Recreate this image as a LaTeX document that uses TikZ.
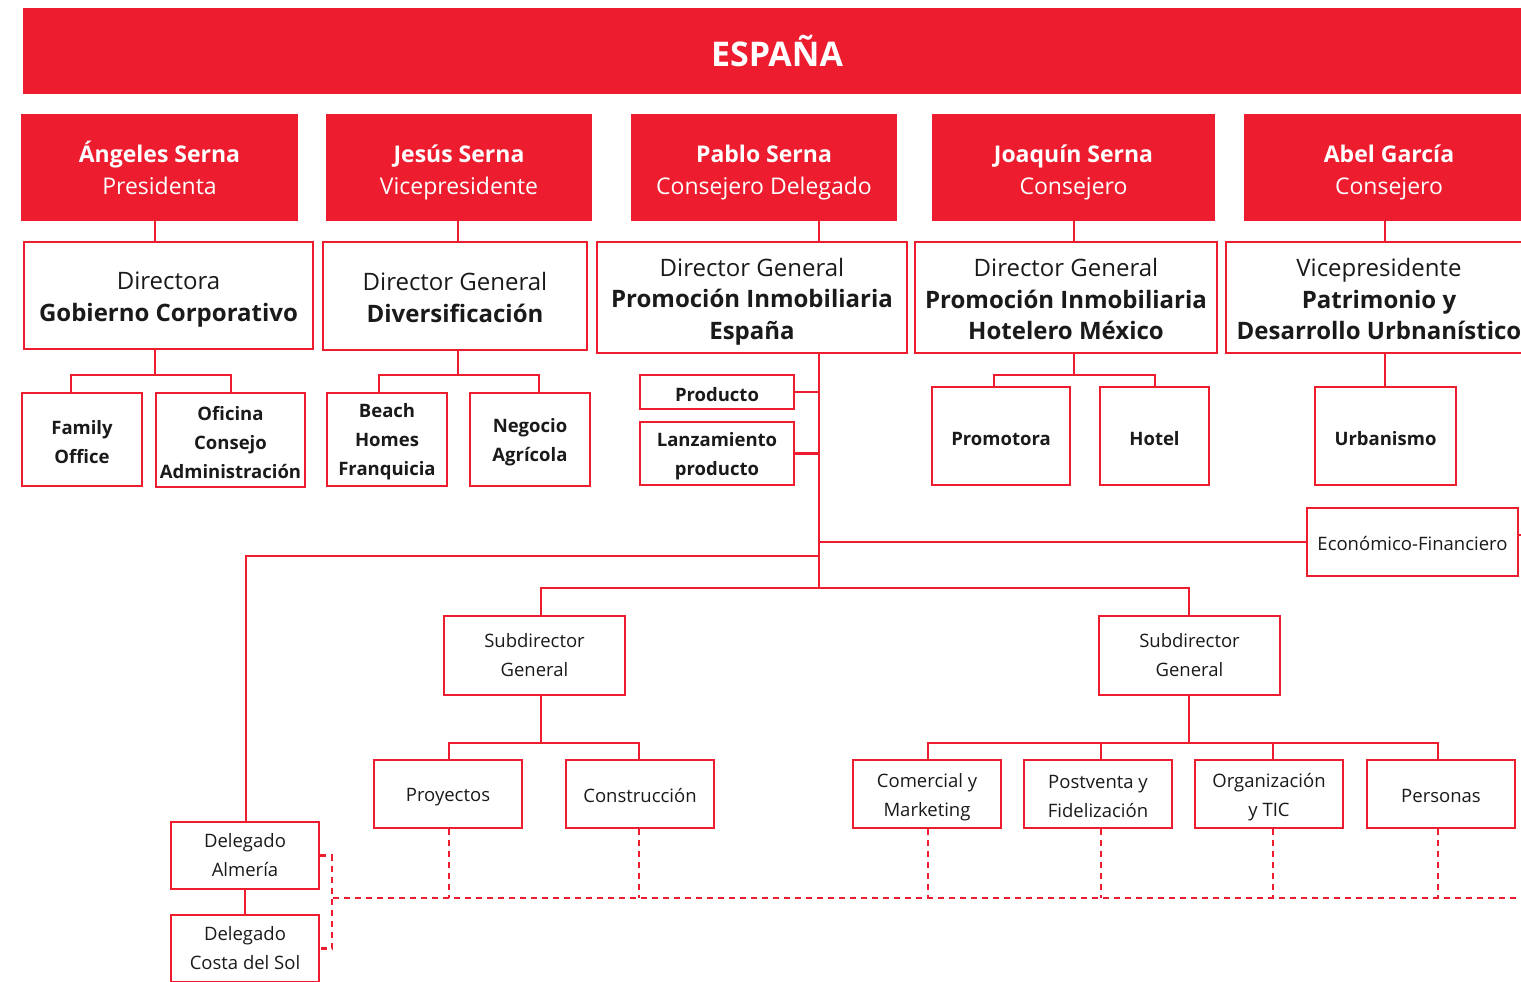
\documentclass[tikz,border=0pt]{standalone}
\usepackage{fontspec}
\setmainfont{Open Sans}
\definecolor{ered}{RGB}{237,28,46}
\definecolor{txt}{RGB}{26,26,26}
\newcommand{\rA}{\rule{0pt}{29.5pt}}
\newcommand{\dA}{\rule[-7pt]{0pt}{7pt}}
\newcommand{\rB}[1]{\rule{0pt}{#1pt}}
\newcommand{\rC}{\rule{0pt}{19pt}}
\newcommand{\rD}{\rule{0pt}{18pt}}
\begin{document}
\begin{tikzpicture}[x=1pt,y=-1pt,
  redbox/.style={fill=ered,draw=none,text=white,align=center,inner sep=0pt,font=\fontsize{23}{32}\selectfont},
  wbox/.style={draw=ered,line width=2.4pt,fill=white,text=txt,align=center,inner sep=0pt},
  big/.style={font=\fontsize{24}{31.5}\selectfont},
  mid/.style={font=\fontsize{18.5}{29}\selectfont\bfseries},
  sm/.style={font=\fontsize{18.5}{29}\selectfont},
  conn/.style={draw=ered,line width=2.3pt},
  dconn/.style={draw=ered,line width=2.3pt,dash pattern=on 6pt off 5pt}]
\useasboundingbox (0,0) rectangle (1521,982);
\clip (0,0) rectangle (1521,982);
% banner
\node[redbox,minimum width=1508pt,minimum height=85pt,font=\fontsize{34}{40}\selectfont\bfseries] (esp) at (777,51) {ESPAÑA};
% top red boxes
\node[redbox,minimum width=277pt,minimum height=107pt] (ang) at (159.5,167.5) {\rA\textbf{Ángeles Serna}\\Presidenta\dA};
\node[redbox,minimum width=266pt,minimum height=107pt] (jes) at (459,167.5) {\rA\textbf{Jesús Serna}\\Vicepresidente\dA};
\node[redbox,minimum width=266pt,minimum height=107pt] (pab) at (764,167.5) {\rA\textbf{Pablo Serna}\\Consejero Delegado\dA};
\node[redbox,minimum width=283pt,minimum height=107pt] (joa) at (1073.5,167.5) {\rA\textbf{Joaquín Serna}\\Consejero\dA};
\node[redbox,minimum width=290pt,minimum height=107pt] (abe) at (1389,167.5) {\rA\textbf{Abel García}\\Consejero\dA};
% second row
\node[wbox,big,minimum width=289pt,minimum height=107pt] (dgc) at (168.5,295.5) {\rB{26}Directora\\\textbf{Gobierno Corporativo}};
\node[wbox,big,minimum width=264pt,minimum height=108pt] (div) at (455,296) {\rB{21}Director General\\\textbf{Diversificación}};
\node[wbox,big,minimum width=310pt,minimum height=111pt] (pie) at (752,297.5) {\rB{26}Director General\\\textbf{Promoción Inmobiliaria}\\\textbf{España}};
\node[wbox,big,minimum width=302pt,minimum height=111pt] (phm) at (1066,297.5) {\rB{22}Director General\\\textbf{Promoción Inmobiliaria}\\\textbf{Hotelero México}};
\node[wbox,big,minimum width=306pt,minimum height=111pt] (pdu) at (1379,297.5) {\rB{22}Vicepresidente\\\textbf{Patrimonio y}\\\textbf{Desarrollo Urbnanístico}};
% third row
\node[wbox,mid,minimum width=120pt,minimum height=93pt] (fam) at (82,439.5) {\rC Family\\Office};
\node[wbox,mid,minimum width=149pt,minimum height=94pt] (ofi) at (230.5,440) {\rC Oficina\\Consejo\\Administración};
\node[wbox,mid,minimum width=120pt,minimum height=93pt] (bea) at (387,439.5) {\rC Beach\\Homes\\Franquicia};
\node[wbox,mid,minimum width=120pt,minimum height=93pt] (neg) at (530,439.5) {\rC Negocio\\Agrícola};
\node[wbox,mid,minimum width=154pt,minimum height=34pt] (pro) at (717,392) {\rC Producto};
\node[wbox,mid,minimum width=154pt,minimum height=63pt] (lan) at (717,453.5) {\rC Lanzamiento\\producto};
\node[wbox,mid,minimum width=138pt,minimum height=98pt] (prm) at (1001,436) {\rC Promotora};
\node[wbox,mid,minimum width=109pt,minimum height=98pt] (hot) at (1154.5,436) {\rC Hotel};
\node[wbox,mid,minimum width=141pt,minimum height=98pt] (urb) at (1385.5,436) {\rC Urbanismo};
\node[wbox,sm,minimum width=211pt,minimum height=68pt] (eco) at (1412.5,542) {\rD Económico-Financiero};
% subdirectors
\node[wbox,sm,minimum width=181pt,minimum height=79pt] (sub1) at (534.5,655.5) {Subdirector\\General};
\node[wbox,sm,minimum width=181pt,minimum height=79pt] (sub2) at (1189.5,655.5) {Subdirector\\General};
% fifth row
\node[wbox,sm,minimum width=148pt,minimum height=68pt] (pry) at (448,794) {\rule{0pt}{20pt}Proyectos};
\node[wbox,sm,minimum width=148pt,minimum height=68pt] (con) at (640,794) {\rD Construcción};
\node[wbox,sm,minimum width=148pt,minimum height=68pt] (com) at (927,794) {\rule{0pt}{20pt}Comercial y\\Marketing};
\node[wbox,sm,minimum width=148pt,minimum height=68pt] (pos) at (1098,794) {\rD Postventa y\\Fidelización};
\node[wbox,sm,minimum width=148pt,minimum height=68pt] (org) at (1269,794) {\rule{0pt}{20pt}Organización\\y TIC};
\node[wbox,sm,minimum width=148pt,minimum height=68pt] (per) at (1441,794) {\rD Personas};
\node[wbox,sm,minimum width=148pt,minimum height=67pt] (del1) at (245,855.5) {Delegado\\Almería};
\node[wbox,sm,minimum width=148pt,minimum height=67pt] (del2) at (245,948.5) {Delegado\\Costa del Sol};
% junction coordinates
\coordinate (xa) at (155,375);
\coordinate (xj) at (458,375);
\coordinate (xp) at (819,588);
\coordinate (xq) at (1074,375);
\coordinate (xb) at (1385,0);
\coordinate (xf) at (71,0);
\coordinate (xo) at (231,0);
\coordinate (xbe) at (379,0);
\coordinate (xne) at (539,0);
\coordinate (xpr) at (994,0);
\coordinate (xho) at (1155,0);
\coordinate (xd) at (246,556);
\coordinate (ys1) at (541,743);
\coordinate (ys2) at (1189,743);
\coordinate (x1) at (449,0);
\coordinate (x2) at (639,0);
\coordinate (x3) at (928,0);
\coordinate (x4) at (1101,0);
\coordinate (x5) at (1273,0);
\coordinate (x6) at (1438,0);
\coordinate (dl) at (333,898);
\coordinate (dr) at (1530,898);
\coordinate (bx) at (332,0);
\coordinate (ecoR) at (1530,535);
% connectors top level
\draw[conn] (ang.south -| xa) -- (dgc.north -| xa);
\draw[conn] (jes.south -| xj) -- (div.north -| xj);
\draw[conn] (pab.south -| xp) -- (pie.north -| xp);
\draw[conn] (joa.south -| xq) -- (phm.north -| xq);
\draw[conn] (abe.south -| xb) -- (pdu.north -| xb);
% second to third
\draw[conn] (dgc.south -| xa) -- (xa);
\draw[conn] (fam.north -| xf) -- (xa -| xf) -- (xa -| xo) -- (ofi.north -| xo);
\draw[conn] (div.south -| xj) -- (xj);
\draw[conn] (bea.north -| xbe) -- (xj -| xbe) -- (xj -| xne) -- (neg.north -| xne);
\draw[conn] (phm.south -| xq) -- (xq);
\draw[conn] (prm.north -| xpr) -- (xq -| xpr) -- (xq -| xho) -- (hot.north -| xho);
\draw[conn] (pdu.south -| xb) -- (urb.north -| xb);
\draw[conn] (pie.south -| xp) -- (xp);
\draw[conn] (pro.east) -- (pro.east -| xp);
\draw[conn] (lan.east) -- (lan.east -| xp);
\draw[conn] (xp |- eco.west) -- (eco.west);
\draw[conn] (eco.east |- ecoR) -- (ecoR);
\draw[conn] (xp |- xd) -- (xd) -- (del1.north -| xd);
\draw[conn] (sub1.north -| ys1) -- (xp -| ys1) -- (xp -| ys2) -- (sub2.north -| ys2);
\draw[conn] (sub1.south -| ys1) -- (ys1);
\draw[conn] (pry.north -| x1) -- (ys1 -| x1) -- (ys1 -| x2) -- (con.north -| x2);
\draw[conn] (sub2.south -| ys2) -- (ys2);
\draw[conn] (com.north -| x3) -- (ys2 -| x3) -- (ys2 -| x6) -- (per.north -| x6);
\draw[conn] (pos.north -| x4) -- (ys2 -| x4);
\draw[conn] (org.north -| x5) -- (ys2 -| x5);
\draw[conn] (del1.south) -- (del2.north);
% dashed
\draw[dconn] (dl) -- (dr);
\foreach \n/\c in {pry/x1,con/x2,com/x3,pos/x4,org/x5,per/x6}{
  \draw[dconn] (\n.south -| \c) -- (dl -| \c);
}
\draw[dconn] (del1.east) -- (del1.east -| bx) -- (del2.east -| bx) -- (del2.east);
\end{tikzpicture}
\end{document}
